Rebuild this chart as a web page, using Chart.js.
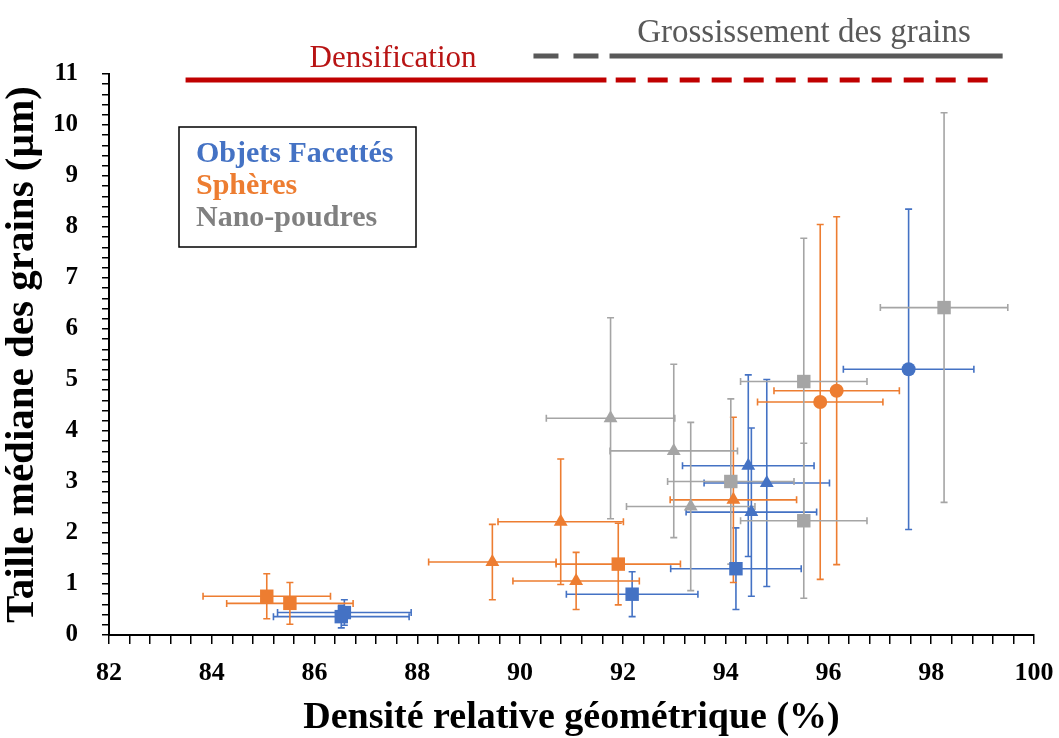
<!DOCTYPE html>
<html>
<head>
<meta charset="utf-8">
<script src="https://cdn.jsdelivr.net/npm/chart.js@4"></script>
<style>
  html, body { margin: 0; padding: 0; background: #fff; }
  #wrap { width: 1059px; height: 738px; }
</style>
</head>
<body>
<div id="wrap"><canvas id="grains" width="1059" height="738"></canvas></div>
<script>
// Objets facettés
const facetX = [86.58, 86.52, 92.18, 94.20, 94.44, 94.80, 94.50, 97.56];
const facetY = [0.44, 0.36, 0.80, 1.30, 3.32, 2.98, 2.41, 5.21];
const facetXErr = [1.30, 1.32, 1.28, 1.27, 1.28, 1.22, 1.27, 1.27];
const facetYErr = [0.25, 0.22, 0.44, 0.80, 1.78, 2.03, 1.65, 3.14];
const facetShape = ["rect", "rect", "rect", "rect", "triangle", "triangle", "triangle", "circle"];

// Sphères
const sphereX = [85.07, 85.52, 91.91, 89.46, 90.79, 91.09, 94.15, 95.84, 96.16];
const sphereY = [0.76, 0.62, 1.39, 1.43, 2.22, 1.06, 2.65, 4.57, 4.79];
const sphereXErr = [1.24, 1.23, 1.21, 1.24, 1.22, 1.23, 1.23, 1.22, 1.22];
const sphereYErr = [0.44, 0.41, 0.80, 0.74, 1.23, 0.56, 1.62, 3.48, 3.41];
const sphereShape = ["rect", "rect", "rect", "triangle", "triangle", "triangle", "triangle", "circle", "circle"];

// Nano-poudres
const nanoX = [94.10, 95.52, 95.52, 98.25, 91.76, 92.99, 93.32];
const nanoY = [3.01, 4.97, 2.24, 6.42, 4.25, 3.61, 2.52];
const nanoXErr = [1.23, 1.23, 1.23, 1.24, 1.25, 1.24, 1.25];
const nanoYErr = [1.62, 2.81, 1.52, 3.82, 1.97, 1.70, 1.65];
const nanoShape = ["rect", "rect", "rect", "rect", "triangle", "triangle", "triangle"];

// bandeaux du haut : [début, fin] en densité (%)
const densifSolid = [83.49, 91.68];
const densifDashed = [91.86, 99.26];
const grossDashed = [90.26, 91.60];
const grossSolid = [91.74, 99.39];

const serif = "'Liberation Serif', 'Times New Roman', serif";
const shapeRadius = { rect: 9.5, triangle: 8, circle: 7 };

function makeSeries(label, color, textColor, xs, ys, xe, ye, shapes) {
  return {
    label,
    data: xs.map((x, i) => ({ x, y: ys[i], xe: xe[i], ye: ye[i] })),
    pointStyle: shapes,
    pointRadius: shapes.map((s) => shapeRadius[s]),
    backgroundColor: color,
    borderColor: color,
    borderWidth: 0,
    textColor,
  };
}

const datasets = [
  makeSeries("Objets Facettés", "#4472C4", "#4472C4", facetX, facetY, facetXErr, facetYErr, facetShape),
  makeSeries("Sphères", "#ED7D31", "#ED7D31", sphereX, sphereY, sphereXErr, sphereYErr, sphereShape),
  makeSeries("Nano-poudres", "#A5A5A5", "#808080", nanoX, nanoY, nanoXErr, nanoYErr, nanoShape),
];

// barres d'erreur en x et y, tracées sous les marqueurs
const errorBars = {
  id: "errorBars",
  beforeDatasetsDraw(chart) {
    const { ctx, scales: { x, y } } = chart;
    const cap = 3.5;
    ctx.save();
    ctx.lineWidth = 1.6;
    chart.data.datasets.forEach((ds) => {
      ctx.strokeStyle = ds.borderColor;
      ds.data.forEach((p) => {
        const px = x.getPixelForValue(p.x);
        const py = y.getPixelForValue(p.y);
        const x0 = x.getPixelForValue(p.x - p.xe);
        const x1 = x.getPixelForValue(p.x + p.xe);
        const y0 = y.getPixelForValue(p.y - p.ye);
        const y1 = y.getPixelForValue(p.y + p.ye);
        ctx.beginPath();
        ctx.moveTo(x0, py); ctx.lineTo(x1, py);
        ctx.moveTo(x0, py - cap); ctx.lineTo(x0, py + cap);
        ctx.moveTo(x1, py - cap); ctx.lineTo(x1, py + cap);
        ctx.moveTo(px, y0); ctx.lineTo(px, y1);
        ctx.moveTo(px - cap, y0); ctx.lineTo(px + cap, y0);
        ctx.moveTo(px - cap, y1); ctx.lineTo(px + cap, y1);
        ctx.stroke();
      });
    });
    ctx.restore();
  },
};

// légende encadrée + bandeaux Densification / Grossissement
const annotations = {
  id: "annotations",
  afterDraw(chart) {
    const { ctx, scales: { x }, chartArea } = chart;
    const top = chartArea.top;
    ctx.save();

    // légende
    ctx.fillStyle = "#fff";
    ctx.fillRect(179, 127, 237, 120);
    ctx.strokeStyle = "#000";
    ctx.lineWidth = 1.5;
    ctx.strokeRect(179, 127, 237, 120);
    ctx.font = "bold 30px " + serif;
    ctx.textAlign = "left";
    ctx.textBaseline = "alphabetic";
    chart.data.datasets.forEach((ds, i) => {
      ctx.fillStyle = ds.textColor;
      ctx.fillText(ds.label, 196, 162 + i * 32);
    });

    const seg = (range, py, color, dash) => {
      ctx.beginPath();
      ctx.setLineDash(dash);
      ctx.strokeStyle = color;
      ctx.lineWidth = 5;
      ctx.moveTo(x.getPixelForValue(range[0]), py);
      ctx.lineTo(x.getPixelForValue(range[1]), py);
      ctx.stroke();
    };
    seg(densifSolid, top + 6, "#C00000", []);
    seg(densifDashed, top + 6, "#C00000", [20, 12]);
    seg(grossDashed, top - 18, "#595959", [25, 15]);
    seg(grossSolid, top - 18, "#595959", []);
    ctx.setLineDash([]);

    ctx.textAlign = "center";
    ctx.fillStyle = "#B81414";
    ctx.font = "31px " + serif;
    ctx.fillText("Densification", 393, top - 7);
    ctx.fillStyle = "#595959";
    ctx.font = "33px " + serif;
    ctx.fillText("Grossissement des grains", 804, top - 32);
    ctx.restore();
  },
};

const isStep = (v, step) => Math.abs(v / step - Math.round(v / step)) < 1e-6;

new Chart(document.getElementById("grains"), {
  type: "scatter",
  data: { datasets },
  options: {
    responsive: false,
    animation: false,
    layout: { padding: { top: 74, right: 25, left: 0, bottom: 0 } },
    plugins: { legend: { display: false }, tooltip: { enabled: false } },
    scales: {
      x: {
        type: "linear",
        min: 82,
        max: 100,
        afterFit: (s) => {
          s.height = 103;
          s.paddingLeft = 0;
          s.paddingRight = 0;
        },
        ticks: {
          stepSize: 0.4,
          autoSkip: false,
          maxRotation: 0,
          padding: 14,
          color: "#000",
          font: { family: serif, size: 26, weight: "bold" },
          callback: (v) => (isStep(v, 2) ? Math.round(v) : ""),
        },
        grid: { drawOnChartArea: false, drawTicks: true, tickLength: 9, color: "#000", lineWidth: 1.5 },
        border: { color: "#000", width: 2 },
        title: {
          display: true,
          text: "Densité relative géométrique (%)",
          color: "#000",
          font: { family: serif, size: 38, weight: "bold", lineHeight: 1 },
          padding: { top: 0, bottom: 1 },
        },
      },
      y: {
        type: "linear",
        min: 0,
        max: 11,
        afterFit: (s) => { s.width = 109; },
        ticks: {
          stepSize: 0.2,
          autoSkip: false,
          padding: 24,
          color: "#000",
          font: { family: serif, size: 25, weight: "bold" },
          callback: (v) => (isStep(v, 1) ? Math.round(v) : ""),
        },
        grid: { drawOnChartArea: false, drawTicks: true, tickLength: 7, color: "#000", lineWidth: 1.5 },
        border: { color: "#000", width: 2 },
        title: {
          display: true,
          text: "Taille médiane des grains (µm)",
          color: "#000",
          font: { family: serif, size: 41, weight: "bold", lineHeight: 1 },
          padding: { top: 2, bottom: 0 },
        },
      },
    },
  },
  plugins: [errorBars, annotations],
});
</script>
</body>
</html>
